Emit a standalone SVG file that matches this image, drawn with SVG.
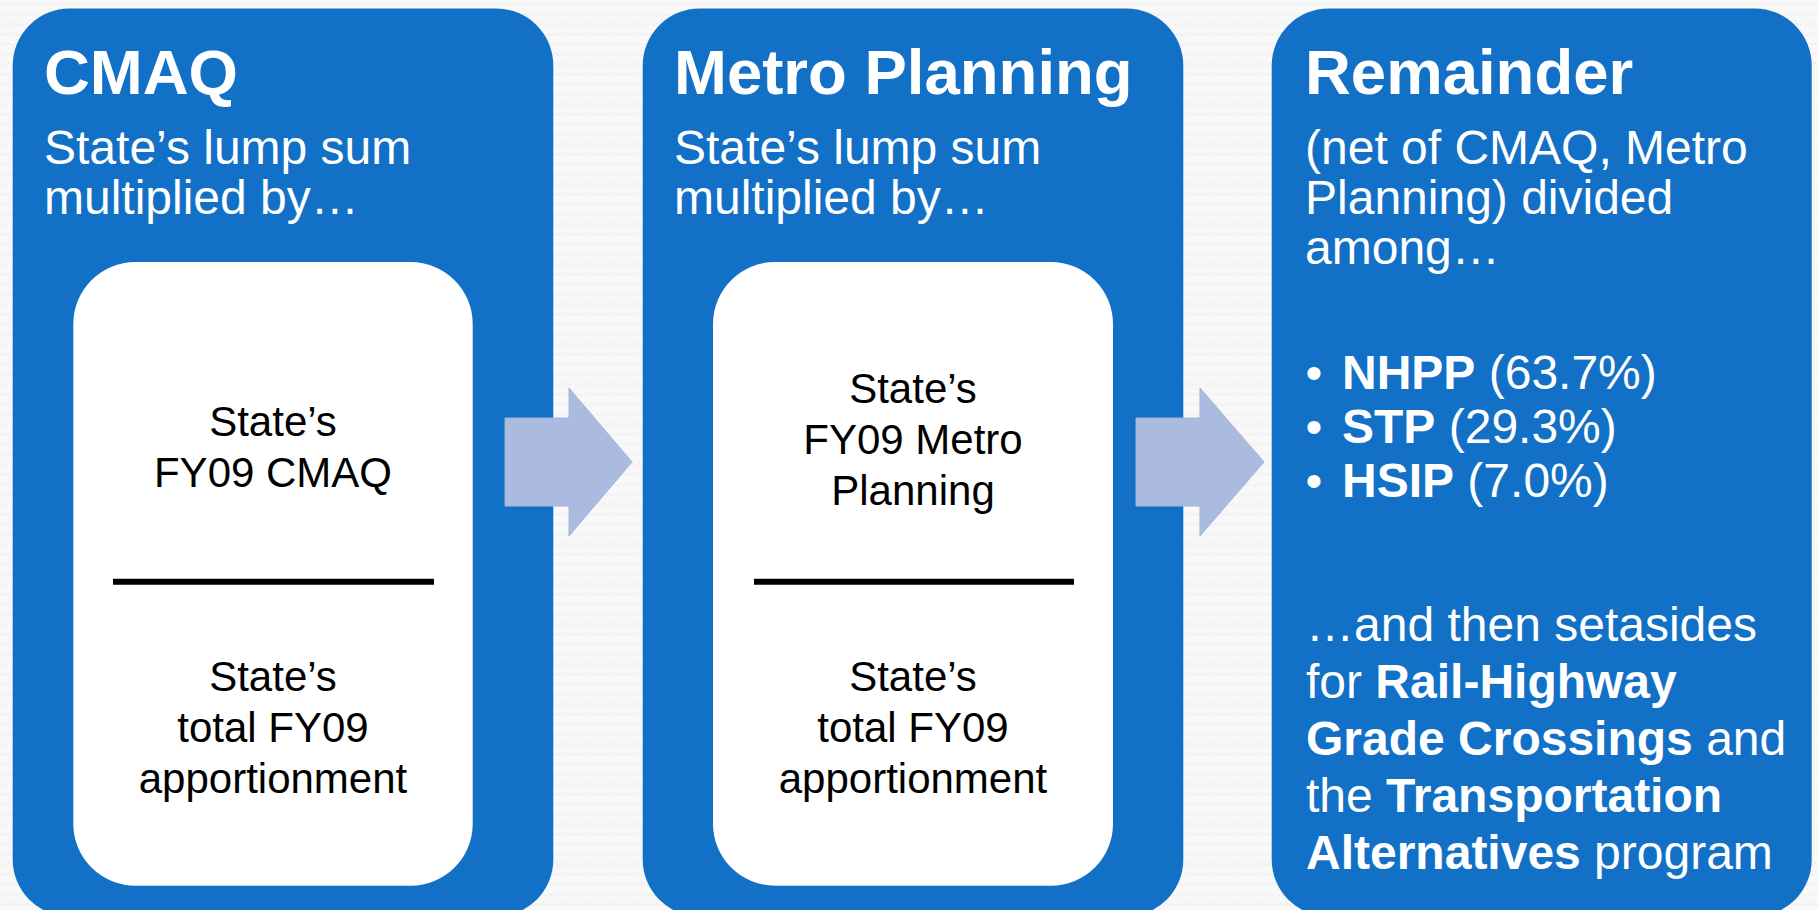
<svg xmlns="http://www.w3.org/2000/svg" width="1818" height="910" viewBox="0 0 1818 910">
  <defs>
    <!-- faint zigzag paper texture for the backdrop -->
    <pattern id="zigzag" width="12" height="10" patternUnits="userSpaceOnUse">
      <path d="M0 6 L3 3 L6 6 L9 3 L12 6" fill="none" stroke="#ececec" stroke-width="1"/>
    </pattern>
  </defs>
  <style>
    .panel { fill: #1270c6; }
    .card { fill: #ffffff; }
    .rule { stroke: #000000; stroke-width: 6; }
    .flow { fill: #abbbdf; stroke: #a3b5dc; stroke-width: 1; }
    text { font-family: "Liberation Sans", Arial, sans-serif; }
    .title { fill: #ffffff; font-size: 63.5px; font-weight: bold; }
    .sub { fill: #ffffff; font-size: 48px; }
    .b { font-weight: bold; }
    .frac { fill: #000000; font-size: 42px; text-anchor: middle; }
  </style>

  <rect x="0" y="0" width="1818" height="910" fill="#f8f8f8"/>
  <rect x="0" y="0" width="1818" height="910" fill="url(#zigzag)"/>

  <!-- CMAQ -->
  <g id="node-cmaq">
    <rect class="panel" x="12.7" y="8.5" width="540.6" height="908" rx="57"/>
    <text class="title" x="44" y="94">CMAQ</text>
    <text class="sub" x="44" y="164">State’s lump sum</text>
    <text class="sub" x="44" y="214">multiplied by…</text>
    <rect class="card" x="73.3" y="262" width="399.4" height="623.7" rx="62"/>
    <text class="frac" x="273" y="436">State’s</text>
    <text class="frac" x="273" y="487">FY09 CMAQ</text>
    <line class="rule" x1="113" y1="581.7" x2="434" y2="581.7"/>
    <text class="frac" x="273" y="691">State’s</text>
    <text class="frac" x="273" y="742">total FY09</text>
    <text class="frac" x="273" y="793">apportionment</text>
  </g>

  <!-- Metro Planning -->
  <g id="node-metro">
    <rect class="panel" x="642.7" y="8.5" width="540.6" height="908" rx="57"/>
    <text class="title" x="674" y="94">Metro Planning</text>
    <text class="sub" x="674" y="164">State’s lump sum</text>
    <text class="sub" x="674" y="214">multiplied by…</text>
    <rect class="card" x="713" y="262" width="400" height="623.7" rx="62"/>
    <text class="frac" x="913" y="403">State’s</text>
    <text class="frac" x="913" y="454">FY09 Metro</text>
    <text class="frac" x="913" y="505">Planning</text>
    <line class="rule" x1="754" y1="581.7" x2="1074" y2="581.7"/>
    <text class="frac" x="913" y="691">State’s</text>
    <text class="frac" x="913" y="742">total FY09</text>
    <text class="frac" x="913" y="793">apportionment</text>
  </g>

  <!-- Remainder -->
  <g id="node-remainder">
    <rect class="panel" x="1271.7" y="8.5" width="540" height="908" rx="57"/>
    <text class="title" x="1305" y="94">Remainder</text>
    <text class="sub" x="1305" y="164">(net of CMAQ, Metro</text>
    <text class="sub" x="1305" y="214">Planning) divided</text>
    <text class="sub" x="1305" y="264">among…</text>

    <text class="sub" x="1314" y="389" text-anchor="middle">•</text>
    <text class="sub" x="1342" y="389"><tspan class="b">NHPP</tspan> (63.7%)</text>
    <text class="sub" x="1314" y="443" text-anchor="middle">•</text>
    <text class="sub" x="1342" y="443"><tspan class="b">STP</tspan> (29.3%)</text>
    <text class="sub" x="1314" y="497" text-anchor="middle">•</text>
    <text class="sub" x="1342" y="497"><tspan class="b">HSIP</tspan> (7.0%)</text>

    <text class="sub" x="1306" y="641">…and then setasides</text>
    <text class="sub" x="1306" y="698">for <tspan class="b">Rail-Highway</tspan></text>
    <text class="sub" x="1306" y="755"><tspan class="b">Grade Crossings</tspan> and</text>
    <text class="sub" x="1306" y="812">the <tspan class="b">Transportation</tspan></text>
    <text class="sub" x="1306" y="869"><tspan class="b">Alternatives</tspan> program</text>
  </g>

  <!-- block arrows between panels -->
  <g id="connectors">
    <polygon class="flow" points="505,418 569,418 569,388 632,462 569,536 569,506 505,506"/>
    <polygon class="flow" points="1136,418 1200,418 1200,388 1264,462 1200,536 1200,506 1136,506"/>
  </g>
</svg>
